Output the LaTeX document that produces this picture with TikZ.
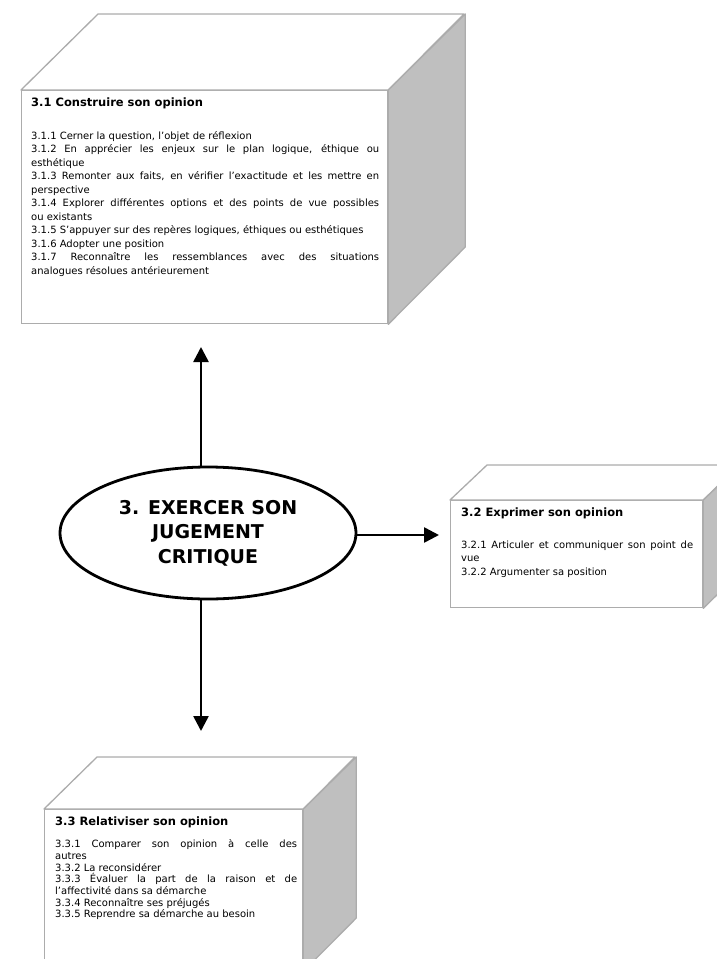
\documentclass[tikz,border=0pt]{standalone}
\usepackage{fontspec}
\setmainfont{DejaVu Sans}
\usepackage{tikz}
\usetikzlibrary{shapes,arrows.meta,positioning,calc}

\tikzset{
    front/.style={draw=gray!65, line width=1.3pt, fill=white, inner sep=0pt, anchor=north west},
    lid/.style={draw=gray!65, line width=1.3pt, fill=white, line join=round},
    flank/.style={draw=gray!65, line width=1.3pt, fill=gray!50, line join=round},
    txt/.style={anchor=north west, inner sep=0pt, align=justify, font=\fontsize{10}{13.5}\selectfont},
    hub/.style={ellipse, draw, line width=2.8pt, minimum width=296, minimum height=132, inner sep=0pt, align=center, font=\fontsize{19}{24.5}\selectfont\bfseries},
    link/.style={-{Triangle[length=15pt,width=15pt]}, line width=2.6pt}
}

\begin{document}
\begin{tikzpicture}[x=1pt, y=-1pt]
    \useasboundingbox (0,0) rectangle (716,959);
    % Box 3.1
    \node[front, minimum width=366, minimum height=233] (b1) at (21,90) {};
    \draw[lid] (b1.north west) -- ++(77,-76) -- ++(366,0) -- (b1.north east) -- cycle;
    \draw[flank] (b1.north east) -- ++(77,-76) -- ++(0,233) -- (b1.south east) -- cycle;
    \node[txt, text width=348] (t1) at ([shift={(10,8)}]b1.north west) {{\fontsize{11.5}{13.5}\selectfont\bfseries 3.1 Construire son opinion}\\[19pt]
        3.1.1 Cerner la question, l'objet de réflexion\\
        3.1.2 En apprécier les enjeux sur le plan logique, éthique ou\linebreak esthétique\\
        3.1.3 Remonter aux faits, en vérifier l'exactitude et les mettre en\linebreak perspective\\
        3.1.4 Explorer différentes options et des points de vue possibles\linebreak ou existants\\
        3.1.5 S'appuyer sur des repères logiques, éthiques ou esthétiques\\
        3.1.6 Adopter une position\\
        3.1.7 Reconnaître les ressemblances avec des situations\linebreak analogues résolues antérieurement};
    % Box 3.2
    \node[front, minimum width=252, minimum height=107] (b2) at (450,500) {};
    \draw[lid] (b2.north west) -- ++(37,-35) -- ++(252,0) -- (b2.north east) -- cycle;
    \draw[flank] (b2.north east) -- ++(37,-35) -- ++(0,107) -- (b2.south east) -- cycle;
    \node[txt, text width=232] (t2) at ([shift={(11,8)}]b2.north west) {{\fontsize{11.5}{13.5}\selectfont\bfseries 3.2 Exprimer son opinion}\\[18pt]
        3.2.1 Articuler et communiquer son point de\linebreak vue\\
        3.2.2 Argumenter sa position};
    % Box 3.3
    \node[front, minimum width=258, minimum height=161] (b3) at (44,809) {};
    \draw[lid] (b3.north west) -- ++(53,-52) -- ++(258,0) -- (b3.north east) -- cycle;
    \draw[flank] (b3.north east) -- ++(53,-52) -- ++(0,161) -- (b3.south east) -- cycle;
    \node[txt, text width=242, font=\fontsize{10}{11.7}\selectfont] (t3) at ([shift={(11,8)}]b3.north west) {{\fontsize{11.5}{12}\selectfont\bfseries 3.3 Relativiser son opinion}\\[10pt]
        3.3.1 Comparer son opinion à celle des\linebreak autres\\
        3.3.2 La reconsidérer\\
        3.3.3 Évaluer la part de la raison et de\linebreak l'affectivité dans sa démarche\\
        3.3.4 Reconnaître ses préjugés\\
        3.3.5 Reprendre sa démarche au besoin};
    % Centre
    \node[hub] (ell) at (208,533) {3. EXERCER SON\\JUGEMENT\\CRITIQUE};
    % Arrows
    \coordinate (upTip) at (201,347);
    \coordinate (downTip) at (201,731);
    \coordinate (rightTip) at (439,535);
    \draw[link] (ell.north -| upTip) -- (upTip);
    \draw[link] (ell.south -| downTip) -- (downTip);
    \draw[link] (ell.east |- rightTip) -- (rightTip);
\end{tikzpicture}
\end{document}
